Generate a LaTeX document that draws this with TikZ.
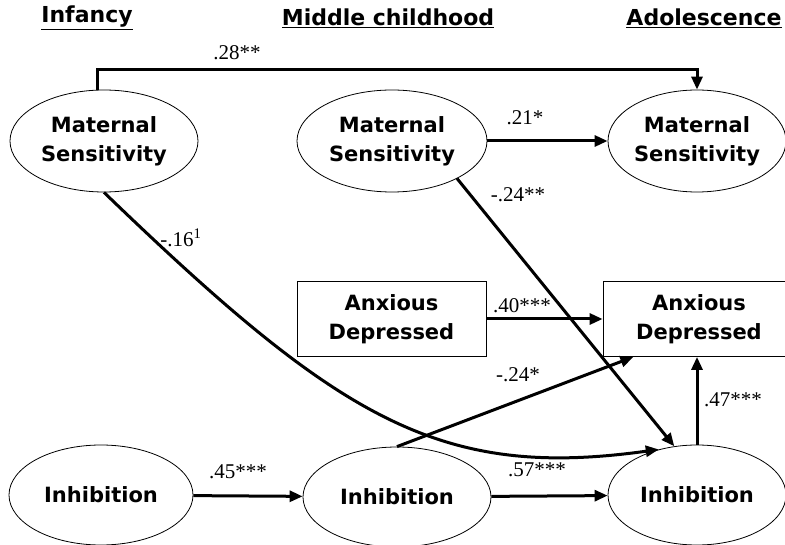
\documentclass[tikz,border=0pt]{standalone}
\usepackage{fontspec}
\setmainfont{Liberation Serif}
\newfontfamily\varfont{DejaVu Sans}
\usetikzlibrary{shapes.geometric,arrows.meta}

\tikzset{every picture/.style={line width=0.8pt}}
\tikzset{
  latent/.style={ellipse,draw,inner sep=0pt,minimum height=102pt,align=center,
    font=\varfont\bfseries\fontsize{21}{29}\selectfont},
  observed/.style={rectangle,draw,inner sep=0pt,minimum height=75pt,align=center,
    font=\varfont\bfseries\fontsize{21}{29}\selectfont},
  period/.style={font=\varfont\bfseries\fontsize{22}{26}\selectfont},
  coef/.style={font=\fontsize{21}{25}\selectfont},
  effect/.style={->,line width=3pt}
}

\begin{document}
\begin{tikzpicture}[x=1pt,y=1pt,>={Triangle[length=13pt,width=11pt]}]
                      \useasboundingbox (0,0) rectangle (785,-545);
                      % time points
                      \node[period] (tInf) at (87,-18) {\underline{Infancy}};
                      \node[period] (tMid) at (388,-18) {\underline{Middle childhood}};
                      \node[period] (tAdo) at (704,-18) {\underline{Adolescence}};
                      % constructs
                      \node[latent,minimum width=188pt] (ms1) at (104,-141) {Maternal\\Sensitivity};
                      \node[latent,minimum width=190pt] (ms2) at (392,-141) {Maternal\\Sensitivity};
                      \node[latent,minimum width=178pt] (ms3) at (697,-141) {Maternal\\Sensitivity};
                      \node[observed,minimum width=189pt] (ad2) at (391.5,-319) {Anxious\\Depressed};
                      \node[observed,minimum width=192pt] (ad3) at (699,-319) {Anxious\\Depressed};
                      \node[latent,minimum width=184pt,minimum height=100pt] (inh1) at (101,-495) {Inhibition};
                      \node[latent,minimum width=188pt,minimum height=100pt] (inh2) at (397,-497) {Inhibition};
                      \node[latent,minimum width=178pt,minimum height=100pt] (inh3) at (697,-495) {Inhibition};
                      % paths
                      \draw[effect] ([xshift=-7pt]ms1.north) -- ++(0,20) -| (ms3.north);
                      \draw[effect] (ms2) -- (ms3);
                      \draw[effect] (ad2) -- (ad3);
                      \draw[effect] (inh1) -- (inh2);
                      \draw[effect] (inh2) -- (inh3);
                      \draw[effect] (inh3.north) -- (inh3.north |- ad3.south);
                      \draw[effect] (ms2.-30) -- (inh3.115);
                      \draw[effect] (inh2.north) -- (ad3.210);
                      \draw[effect] (ms1.south) .. controls (340,-420) and (440,-480) .. (inh3.130);
                      % coefficients
                      \node[coef] (c1) at (237,-53) {.28**};
                      \node[coef] (c2) at (525,-118) {.21*};
                      \node[coef] (c3) at (518,-195) {-.24**};
                      \node[coef] (c4) at (181,-238) {-.16\textsuperscript{1}};
                      \node[coef] (c5) at (522,-306) {.40***};
                      \node[coef] (c6) at (518,-375) {-.24*};
                      \node[coef] (c7) at (238,-472) {.45***};
                      \node[coef] (c8) at (537,-470) {.57***};
                      \node[coef] (c9) at (733,-400) {.47***};
                  \end{tikzpicture}
\end{document}
